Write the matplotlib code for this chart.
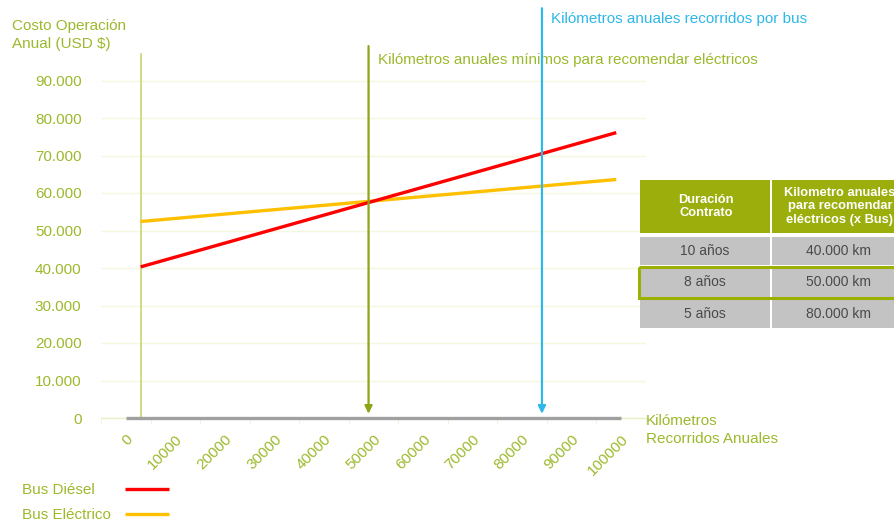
import matplotlib
matplotlib.use("Agg")
import matplotlib.pyplot as plt
from matplotlib.patches import Rectangle

plt.rcParams["font.family"] = ["Liberation Sans", "DejaVu Sans"]

# data
km_ticks = [0, 10000, 20000, 30000, 40000, 50000, 60000, 70000, 80000, 90000, 100000]
cost_ticks = [0, 10000, 20000, 30000, 40000, 50000, 60000, 70000, 80000, 90000]
km_range = [3000, 99000]
diesel_cost = [40300, 76100]
electric_cost = [52400, 63600]
km_min_electric = 49000
km_per_bus = 84000

table_header = ["Duración\nContrato", "Kilometro anuales\npara recomendar\neléctricos (x Bus)"]
table_duration = ["10 años", "8 años", "5 años"]
table_km = ["40.000 km", "50.000 km", "80.000 km"]
highlight_row = 1

OLIVE = "#9bb92c"
OLIVE_DARK = "#8ca61a"
BLUE = "#2db7ea"
RED = "#ff0000"
ORANGE = "#ffc000"

W, H = 895, 523
fig = plt.figure(figsize=(W / 100, H / 100), dpi=100)
ax = fig.add_axes([101 / W, (H - 418) / H, 545 / W, 367.5 / H])

ax.set_xlim(-5000, 105000)
ax.set_ylim(0, 98000)

for s in ["top", "right", "left"]:
    ax.spines[s].set_visible(False)
ax.spines["bottom"].set_color("#e9f0c6")
ax.spines["bottom"].set_linewidth(1)

ax.set_yticks(cost_ticks)
ax.set_yticklabels(["{:,}".format(v).replace(",", ".") for v in cost_ticks])
ax.tick_params(axis="y", length=0, pad=14, labelsize=11, labelcolor=OLIVE)
ax.grid(axis="y", color="#f4f8df", linewidth=1)
ax.set_axisbelow(True)

ax.set_xticks(km_ticks)
ax.set_xticklabels([str(v) for v in km_ticks], rotation=45, ha="right",
                   va="top", rotation_mode="anchor")
ax.tick_params(axis="x", length=0, pad=10, labelsize=11, labelcolor=OLIVE)
ax.set_xticks([v + 5000 for v in [-10000] + km_ticks], minor=True)
ax.tick_params(axis="x", which="minor", length=4, color="#eef3d2")

# vertical value-axis line and zero baseline
ax.plot([km_range[0], km_range[0]], [0, 97000], color="#c9d66e", lw=1.2, zorder=2)
ax.plot([km_ticks[0], km_ticks[-1]], [0, 0], color="#a0a0a0", lw=2.4,
        solid_capstyle="butt", zorder=3, clip_on=False)

ax.plot(km_range, electric_cost, color=ORANGE, lw=2.4, solid_capstyle="butt", zorder=4)
ax.plot(km_range, diesel_cost, color=RED, lw=2.4, solid_capstyle="butt", zorder=5)

# arrows
ax.annotate("", xy=(km_min_electric, 0), xycoords="data",
            xytext=(km_min_electric, 1.012), textcoords=("data", "axes fraction"),
            arrowprops=dict(arrowstyle="-|>,head_length=0.45,head_width=0.22",
                            color=OLIVE_DARK, lw=1.6, shrinkA=0, shrinkB=3),
            zorder=6)
ax.annotate("", xy=(km_per_bus, 0), xycoords="data",
            xytext=(km_per_bus, 1.115), textcoords=("data", "axes fraction"),
            arrowprops=dict(arrowstyle="-|>,head_length=0.45,head_width=0.22",
                            color=BLUE, lw=1.6, shrinkA=0, shrinkB=3),
            zorder=6, annotation_clip=False)
ax.annotate("Kilómetros anuales mínimos para recomendar eléctricos",
            xy=(km_min_electric, 0.974), xycoords=("data", "axes fraction"),
            xytext=(6.5, 0), textcoords="offset points", ha="left", va="center",
            fontsize=11, color=OLIVE, annotation_clip=False)
ax.annotate("Kilómetros anuales recorridos por bus",
            xy=(km_per_bus, 1.086), xycoords=("data", "axes fraction"),
            xytext=(6.5, 0), textcoords="offset points", ha="left", va="center",
            fontsize=11, color=BLUE, annotation_clip=False)

# overlay in pixel units for titles, legend and table
ov = fig.add_axes([0, 0, 1, 1], zorder=10)
ov.set_xlim(0, W)
ov.set_ylim(H, 0)
ov.axis("off")
ov.patch.set_alpha(0)

ov.text(12, 35, "Costo Operación\nAnual (USD $)", ha="left", va="center",
        fontsize=11, color=OLIVE, linespacing=1.35)
ov.text(646, 430, "Kilómetros\nRecorridos Anuales", ha="left", va="center",
        fontsize=11, color=OLIVE, linespacing=1.3)

# legend
for y, label, col in [(490, "Bus Diésel", RED), (515, "Bus Eléctrico", ORANGE)]:
    ov.text(22, y, label, ha="left", va="center", fontsize=11, color=OLIVE)
    ov.plot([125, 169], [y - 1, y - 1], color=col, lw=2.4, solid_capstyle="butt")

# table
col_x = [(640, 770), (772, 906)]
header_y = (180, 233)
row_y = [(237, 265), (268, 297), (300, 328)]
for (x0, x1), txt in zip(col_x, table_header):
    ov.add_patch(Rectangle((x0, header_y[0]), x1 - x0, header_y[1] - header_y[0],
                           facecolor="#9bae0c", edgecolor="none"))
    ov.text((x0 + x1) / 2 + 1, sum(header_y) / 2, txt, ha="center", va="center",
            multialignment="center", fontsize=9.3, fontweight="bold",
            color="white", linespacing=1.15)
for i, (y0, y1) in enumerate(row_y):
    for (x0, x1), txt in zip(col_x, [table_duration[i], table_km[i]]):
        ov.add_patch(Rectangle((x0, y0), x1 - x0, y1 - y0,
                               facecolor="#c3c3c3", edgecolor="none"))
        ov.text((x0 + x1) / 2, (y0 + y1) / 2, txt, ha="center", va="center",
                fontsize=10, color="#4a4a4a")
hy0, hy1 = row_y[highlight_row]
ov.add_patch(Rectangle((639, hy0 - 1), 270, hy1 - hy0 + 2, facecolor="none",
                       edgecolor="#9bb000", lw=2.2))

fig.savefig("out.png", dpi=100)
